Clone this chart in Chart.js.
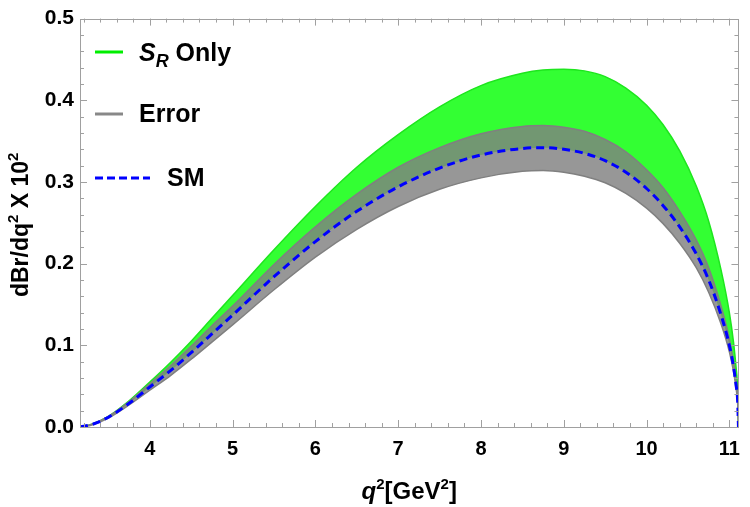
<!DOCTYPE html>
<html>
<head>
<meta charset="utf-8">
<script src="https://cdn.jsdelivr.net/npm/chart.js@4/dist/chart.umd.min.js"></script>
<style>
html,body{margin:0;padding:0;background:#fff;}
#wrap{width:750px;height:507px;position:relative;}
</style>
</head>
<body>
<div id="wrap"><canvas id="c" width="750" height="507"></canvas></div>
<script>
// q^2 grid (GeV^2)
const qValues = [3.157,3.3,3.5,3.75,4.0,4.25,4.5,4.75,5.0,5.5,6.0,6.5,7.0,7.5,8.0,8.5,8.75,9.0,9.25,9.5,9.75,10.0,10.2,10.4,10.6,10.75,10.9,11.0,11.05,11.08,11.1,11.11];
// SM central curve
const smValues = [0,0.003,0.012,0.029,0.049,0.069,0.091,0.114,0.137,0.184,0.227,0.264,0.294,0.317,0.333,0.341,0.342,0.340,0.335,0.326,0.312,0.292,0.271,0.245,0.212,0.180,0.137,0.100,0.074,0.052,0.032,0];
// Error band
const errUpper = [0,0.0035,0.013,0.031,0.053,0.075,0.099,0.124,0.148,0.199,0.245,0.285,0.318,0.342,0.359,0.368,0.369,0.367,0.362,0.352,0.337,0.315,0.293,0.264,0.229,0.195,0.148,0.108,0.080,0.056,0.035,0];
const errLower = [0,0.0025,0.011,0.027,0.045,0.063,0.083,0.104,0.125,0.168,0.208,0.242,0.270,0.291,0.305,0.313,0.314,0.312,0.307,0.299,0.286,0.268,0.249,0.225,0.195,0.165,0.126,0.092,0.068,0.048,0.029,0];
// S_R only upper edge
const srUpper = [0,0.0035,0.013,0.032,0.055,0.079,0.105,0.133,0.161,0.217,0.270,0.318,0.358,0.392,0.418,0.433,0.437,0.438,0.436,0.429,0.415,0.394,0.370,0.338,0.295,0.252,0.192,0.140,0.104,0.074,0.045,0];
// tick labels
const xTickValues = [4,5,6,7,8,9,10,11];
const yTickValues = [0.0,0.1,0.2,0.3,0.4,0.5];
const legendLabels = ['Only','Error','SM'];

const pts = arr => qValues.map((q,i)=>({x:q,y:arr[i]}));

const FONT = '"Liberation Sans", Arial, sans-serif';

const frameTicks = {
  id:'frameTicks',
  afterDatasetsDraw(chart){
    const {ctx, chartArea:a, scales:{x,y}} = chart;
    ctx.save();
    ctx.strokeStyle = '#a0a0a0';
    ctx.lineWidth = 1;
    ctx.beginPath();
    for (let k=16; k<=55; k++){
      const v = k/5;
      if (v < x.min || v > x.max) continue;
      const px = Math.round(x.getPixelForValue(v))+0.5;
      const L = (k%5===0)?7:4;
      ctx.moveTo(px,a.bottom); ctx.lineTo(px,a.bottom-L);
      ctx.moveTo(px,a.top); ctx.lineTo(px,a.top+L);
    }
    for (let k=0; k<=25; k++){
      const v = k/50;
      const py = Math.round(y.getPixelForValue(v))+0.5;
      const L = (k%5===0)?7:4;
      ctx.moveTo(a.left,py); ctx.lineTo(a.left+L,py);
      ctx.moveTo(a.right,py); ctx.lineTo(a.right-L,py);
    }
    ctx.stroke();
    ctx.strokeRect(Math.round(a.left)+0.5, Math.round(a.top)+0.5, Math.round(a.right-a.left), Math.round(a.bottom-a.top));
    ctx.restore();
  }
};

function measureParts(ctx, parts){
  let w = 0;
  parts.forEach(p=>{ctx.font=p[1]; w+=ctx.measureText(p[0]).width;});
  return w;
}
function renderParts(ctx, parts, x, y){
  let cx = x;
  parts.forEach(p=>{ctx.font=p[1]; ctx.fillText(p[0], cx, y+p[2]); cx += ctx.measureText(p[0]).width;});
}

const annotations = {
  id:'annotations',
  afterDraw(chart){
    const {ctx, chartArea:a} = chart;
    ctx.save();
    ctx.fillStyle = '#000';
    ctx.textBaseline = 'alphabetic';
    ctx.textAlign = 'left';
    // legend
    ctx.lineWidth = 3;
    ctx.strokeStyle = '#00ee00';
    ctx.beginPath(); ctx.moveTo(95,52); ctx.lineTo(123,52); ctx.stroke();
    ctx.strokeStyle = '#888888';
    ctx.beginPath(); ctx.moveTo(95,114); ctx.lineTo(123,114); ctx.stroke();
    ctx.strokeStyle = '#0000ff';
    ctx.setLineDash([8,4]);
    ctx.beginPath(); ctx.moveTo(95,178); ctx.lineTo(150,178); ctx.stroke();
    ctx.setLineDash([]);
    renderParts(ctx, [
      ['S', 'italic bold 25px '+FONT, 0],
      ['R', 'italic bold 18px '+FONT, 6],
      [' '+legendLabels[0], 'bold 25px '+FONT, 0]
    ], 139, 61);
    ctx.font = 'bold 25px '+FONT;
    ctx.fillText(legendLabels[1], 139, 122);
    ctx.fillText(legendLabels[2], 167, 186);

    // x title
    const xParts = [
      ['q', 'italic bold 24px '+FONT, 0],
      ['2', 'bold 15px '+FONT, -10],
      ['[GeV', 'bold 24px '+FONT, 0],
      ['2', 'bold 15px '+FONT, -10],
      [']', 'bold 24px '+FONT, 0]
    ];
    const wx = measureParts(ctx, xParts);
    renderParts(ctx, xParts, (a.left+a.right)/2 - wx/2, 499);

    // y title
    const yParts = [
      ['dBr/dq', 'bold 23px '+FONT, 0],
      ['2', 'bold 15px '+FONT, -10],
      [' X 10', 'bold 23px '+FONT, 0],
      ['2', 'bold 15px '+FONT, -10]
    ];
    const wy = measureParts(ctx, yParts);
    ctx.translate(28, (a.top+a.bottom)/2 + 2);
    ctx.rotate(-Math.PI/2);
    renderParts(ctx, yParts, -wy/2, 0);
    ctx.restore();
  }
};

new Chart(document.getElementById('c'), {
  type:'line',
  data:{
    datasets:[
      { label:'S_R Only', data:pts(srUpper), borderColor:'#1ee61e', borderWidth:1.5,
        backgroundColor:'rgba(51,255,51,1)', fill:3, pointRadius:0, order:3 },
      { label:'Error upper', data:pts(errUpper), borderColor:'#808080', borderWidth:1.5,
        backgroundColor:'rgba(128,128,128,0.82)', fill:2, pointRadius:0, order:2 },
      { label:'Error lower', data:pts(errLower), borderColor:'#808080', borderWidth:1.5,
        fill:false, pointRadius:0, order:1 },
      { label:'SM', data:pts(smValues), borderColor:'#0000ff', borderWidth:3, borderDash:[8,5],
        fill:false, pointRadius:0, order:0 }
    ]
  },
  options:{
    responsive:false,
    animation:false,
    devicePixelRatio:1,
    layout:{padding:{left:0, top:15, right:5, bottom:0}},
    elements:{line:{cubicInterpolationMode:'monotone'}},
    plugins:{legend:{display:false}, tooltip:{enabled:false}, title:{display:false}},
    scales:{
      x:{
        type:'linear', min:3.157, max:11.11,
        grid:{display:false, drawTicks:false},
        border:{display:false},
        afterBuildTicks:s=>{s.ticks = xTickValues.map(v=>({value:v}));},
        afterFit:s=>{s.height = 80;},
        ticks:{color:'#000', padding:10, font:{family:FONT, size:20, weight:'bold'},
               maxRotation:0, autoSkip:false, callback:v=>String(v)}
      },
      y:{
        type:'linear', min:0, max:0.5,
        grid:{display:false, drawTicks:false},
        border:{display:false},
        afterBuildTicks:s=>{s.ticks = yTickValues.map(v=>({value:v}));},
        afterFit:s=>{s.width = 80;},
        ticks:{color:'#000', padding:6, font:{family:FONT, size:21, weight:'bold'},
               callback:v=>Number(v).toFixed(1)}
      }
    }
  },
  plugins:[frameTicks, annotations]
});
</script>
</body>
</html>
